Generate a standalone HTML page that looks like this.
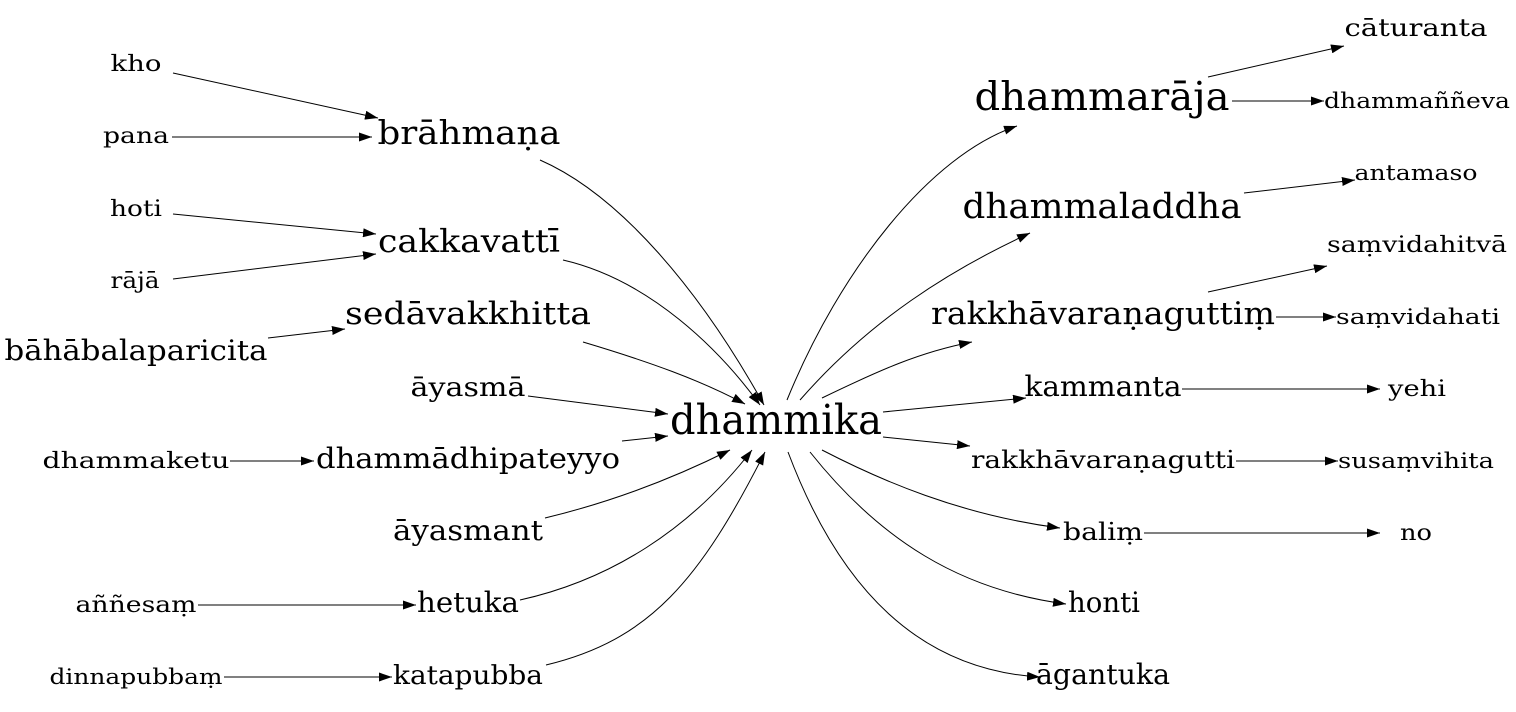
<!DOCTYPE html>
<html><head><meta charset="utf-8"><style>
html,body{margin:0;padding:0;background:#fff;}
svg text{font-family:"DejaVu Serif","Liberation Serif",serif;fill:#000;text-anchor:middle;}
</style></head><body>
<svg width="1516" height="707" viewBox="0 0 1516 707" xmlns="http://www.w3.org/2000/svg">
<defs><marker id="ah" viewBox="0 0 10 10" refX="10" refY="5" markerWidth="13" markerHeight="9" markerUnits="userSpaceOnUse" orient="auto" preserveAspectRatio="none"><path d="M0,0 L10,5 L0,10 z" fill="#000"/></marker></defs>
<g id="edges" fill="none" stroke="#000" stroke-width="1"></g>
<g id="nodes"></g>
</svg>
<script>
const nodeLabels=["kho","brāhmaṇa","pana","hoti","cakkavattī","rājā","bāhābalaparicita","sedāvakkhitta","āyasmā","dhammaketu","dhammādhipateyyo","āyasmant","aññesaṃ","hetuka","dinnapubbaṃ","katapubba","dhammika","dhammarāja","cāturanta","dhammaññeva","dhammaladdha","antamaso","saṃvidahitvā","rakkhāvaraṇaguttiṃ","saṃvidahati","kammanta","yehi","rakkhāvaraṇagutti","susaṃvihita","baliṃ","no","honti","āgantuka"];
const nodeX=[136,469,136,136,469,135,136,468,468,136,468,468,136,468,136,468,776,1102,1416,1417,1102,1416,1417,1103,1418,1103,1417,1103,1416,1103,1416,1104,1103];
const nodeY=[71,144,143,216,252,288,360,324,396,468,468,540,612,612,684,684,434,110,36,108,218,180,252,324,324,396,396,468,468,540,540,612,684];
const nodeSize=[22,33,22,22,32,22,28,31,26,22,28,28,22,28,21,26,41,39,24,21,35,21,22,31,21,28,22,24,21,24,22,28,28];
const nodeWidth=[51,183,66,52,182,49,263,246,115,187,304,150,121,102,173,150,212,255,143,186,279,123,180,344,164,157,58,264,156,80,32,72,134];
const edgePaths=[
"M173,73 L378,118","M172,137 L372,137","M173,214 L376,234","M173,279 L376,254","M268,338 L345,329",
"M230,461 L314,461","M198,605 L416,605","M224,677 L392,677",
"M540,160 C620,195 700,290 764,405","M563,260 C650,280 720,350 760,405","M583,342 C650,362 700,380 745,404",
"M528,396 L668,414","M622,441 L668,436","M545,518 C620,500 680,475 730,450","M520,600 C610,580 690,530 752,450",
"M546,665 C650,640 700,580 765,452",
"M787,400 C840,270 930,155 1017,126","M800,400 C870,320 950,270 1030,233","M822,398 C880,370 920,352 972,342",
"M883,412 L1026,398","M883,437 L970,446","M822,450 C880,480 960,515 1060,528","M810,452 C880,540 960,590 1066,604",
"M788,452 C840,590 920,670 1040,677",
"M1208,77 L1344,46","M1232,101 L1324,101","M1244,193 L1355,180","M1208,292 L1327,266","M1276,317 L1336,317",
"M1182,389 L1380,389","M1236,461 L1338,461","M1144,533 L1380,533"];
const NS="http://www.w3.org/2000/svg";
const eg=document.getElementById('edges');
edgePaths.forEach(d=>{const p=document.createElementNS(NS,'path');p.setAttribute('d',d);p.setAttribute('marker-end','url(#ah)');


eg.appendChild(p);});
const ng=document.getElementById('nodes');
nodeLabels.forEach((l,i)=>{const t=document.createElementNS(NS,'text');t.setAttribute('x',nodeX[i]);t.setAttribute('y',nodeY[i]);t.setAttribute('font-size',nodeSize[i]);
t.setAttribute('textLength',nodeWidth[i]);t.setAttribute('lengthAdjust','spacingAndGlyphs');t.textContent=l;


ng.appendChild(t);});
</script>
</body></html>
